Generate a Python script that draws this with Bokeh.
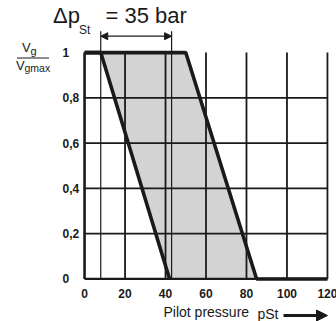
from bokeh.plotting import figure
from bokeh.models import ColumnDataSource, Arrow, NormalHead
from bokeh.embed import file_html
from bokeh.resources import INLINE

# ---------------- data ----------------
x_ticks = [0, 20, 40, 60, 80, 100, 120]
x_tick_labels = ["0", "20", "40", "60", "80", "100", "120"]
y_ticks = [0, 0.2, 0.4, 0.6, 0.8, 1.0]
y_tick_labels = ["0", "0,2", "0,4", "0,6", "0,8", "1"]
grid_x = [20, 40, 60, 80, 100, 120]
grid_y = [0.2, 0.4, 0.6, 0.8]
# characteristic curves: pilot pressure (bar) vs Vg/Vgmax
left_p = [0, 8, 42]
left_v = [1, 1, 0]
right_p = [0, 50, 85, 120]
right_v = [1, 1, 0, 0]
band_p = [8, 50, 85, 42]
band_v = [1, 1, 0, 0]
dp_marks = [8, 43]          # Δp_St = 35 bar

FONT = "Liberation Sans"
INK = "#1a1a1a"

# ---------------- figure (frame = whole canvas) ----------------
W, H = 336, 321
X0PX, KX = 84.05, 2.0242     # pixel of x=0, pixels per bar
Y0PX, KY = 278.47, 226.39    # pixel of y=0, pixels per unit

def sx(px):
    return (px - X0PX) / KX

def sy(py):
    return (Y0PX - py) / KY

p = figure(width=W, height=H, x_range=(sx(0), sx(W)), y_range=(sy(H), sy(0)),
           min_border=0, x_axis_location=None, y_axis_location=None,
           output_backend="svg", toolbar_location=None)
p.grid.visible = False
p.outline_line_color = None
p.background_fill_color = "white"
p.border_fill_color = "white"

def txt(px, py, s, size, style="normal", align="left"):
    p.text(x=[sx(px)], y=[sy(py)], text=[s], text_font={"value": FONT},
           text_font_size=size, text_font_style=style, text_color=INK,
           text_align=align, text_baseline="middle")

# shaded band
p.patch(band_p, band_v, fill_color="#d3d3d3", line_color=None)

# grid
p.segment(x0=grid_x, y0=[0] * len(grid_x), x1=grid_x, y1=[1] * len(grid_x),
          line_color=INK, line_width=1.8)
p.segment(x0=[0] * len(grid_y), y0=grid_y, x1=[120] * len(grid_y), y1=grid_y,
          line_color=INK, line_width=1.8)
p.segment(x0=[0], y0=[0], x1=[120], y1=[0], line_color=INK, line_width=2.2)
p.segment(x0=[0], y0=[0], x1=[0], y1=[1], line_color=INK, line_width=2.6)

# Δp marker lines
top_mark = sy(30.7)
p.segment(x0=dp_marks, y0=[0, 0], x1=dp_marks, y1=[top_mark, top_mark],
          line_color=INK, line_width=1.2)

# curves
p.line(left_p, left_v, line_color=INK, line_width=3.6)
p.line(right_p, right_v, line_color=INK, line_width=3.6)

# dimension arrow
ya = sy(35.7)
p.add_layout(Arrow(start=NormalHead(size=7, fill_color=INK, line_color=INK),
                   end=NormalHead(size=7, fill_color=INK, line_color=INK),
                   x_start=dp_marks[0], x_end=dp_marks[1], y_start=ya, y_end=ya,
                   line_color=INK, line_width=1.2))

# title  Δp_St = 35 bar
txt(52.5, 14.5, "Δp", "22px")
txt(78.5, 29, "St", "12px")
txt(105, 14.5, "= 35 bar", "22px")

# tick labels
ysrc = ColumnDataSource(dict(y=y_ticks, t=y_tick_labels, x=[sx(62)] * len(y_ticks)))
p.text(x="x", y="y", text="t", source=ysrc, text_font={"value": FONT},
       text_font_style="bold", text_font_size="12px", text_color=INK,
       text_align="left", text_baseline="middle")
xsrc = ColumnDataSource(dict(x=x_ticks, t=x_tick_labels, y=[sy(292.5)] * len(x_ticks)))
p.text(x="x", y="y", text="t", source=xsrc, text_font={"value": FONT},
       text_font_style="bold", text_font_size="12px", text_color=INK,
       text_align="center", text_baseline="middle")

# y axis label  Vg / Vgmax
txt(21.5, 47, "V", "13px")
txt(30, 50, "g", "11px")
p.segment(x0=[sx(16.5)], y0=[sy(57.5)], x1=[sx(48.5)], y1=[sy(57.5)],
          line_color=INK, line_width=1)
txt(15.5, 64.5, "V", "13px")
txt(24, 67, "gmax", "10.5px")

# x axis label
txt(163, 311.5, "Pilot pressure", "14px")
txt(257, 313.5, "pSt", "14px")
p.add_layout(Arrow(end=NormalHead(size=11, fill_color=INK, line_color=INK),
                   x_start=sx(283), x_end=sx(327), y_start=sy(315), y_end=sy(315),
                   line_color=INK, line_width=3))

open("out.html", "w").write(file_html(p, INLINE))
